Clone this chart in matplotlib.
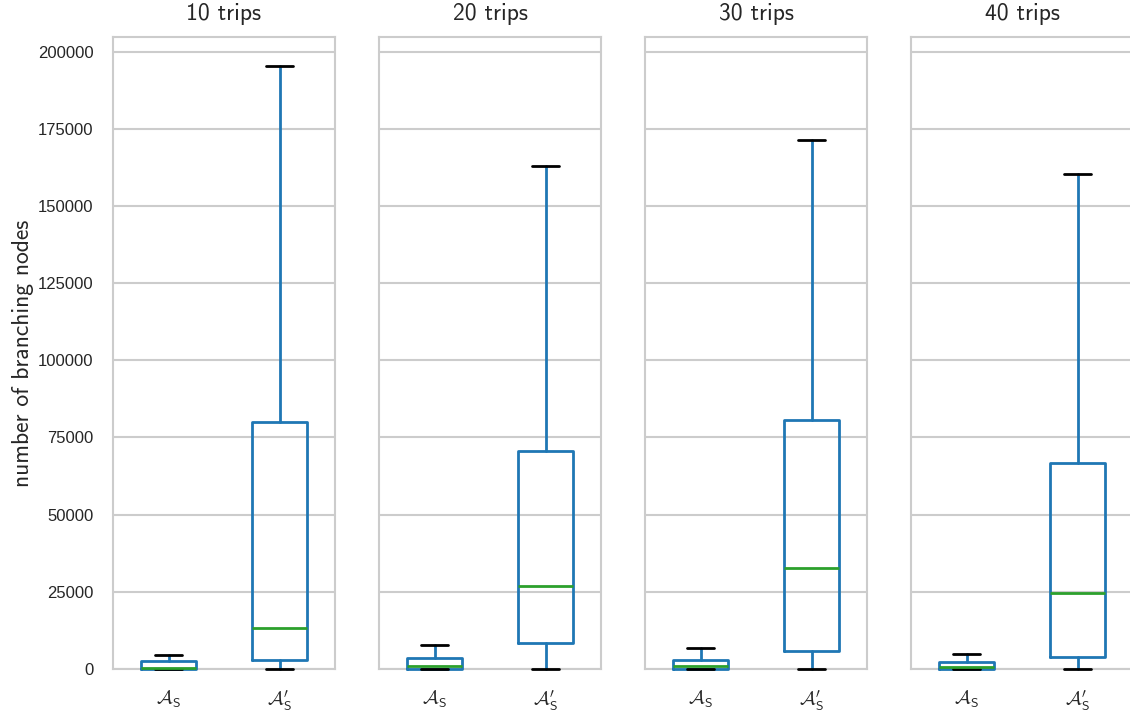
import matplotlib
matplotlib.use("Agg")
import matplotlib.pyplot as plt
import seaborn as sns

sns.set_theme(style="whitegrid")
plt.rcParams["font.family"] = ["Liberation Sans", "DejaVu Sans"]
plt.rcParams["mathtext.fontset"] = "cm"

# five-number summaries (lower whisker, q1, median, q3, upper whisker)
trip_counts = ["10 trips", "20 trips", "30 trips", "40 trips"]
method_labels = [r"$\mathcal{A}_\mathsf{S}$", r"$\mathcal{A}_\mathsf{S}^\prime$"]

as_low = [0, 0, 0, 0]
as_q1 = [0, 100, 100, 100]
as_med = [200, 900, 900, 700]
as_q3 = [2600, 3600, 2900, 2300]
as_high = [4500, 7800, 6800, 4900]

asp_low = [0, 0, 0, 0]
asp_q1 = [2900, 8400, 5800, 3900]
asp_med = [13300, 26900, 32700, 24600]
asp_q3 = [80000, 70500, 80600, 66700]
asp_high = [195200, 162800, 171300, 160300]

W, H = 1130, 713
fig = plt.figure(figsize=(W / 100, H / 100), dpi=100)

ax_lefts = [113, 379, 645, 911]
ax_w, ax_top, ax_bot = 222, 37, 669

box_color = "#1f77b4"
axes = []
for i, title in enumerate(trip_counts):
    ax = fig.add_axes([ax_lefts[i] / W, 1 - ax_bot / H, ax_w / W, (ax_bot - ax_top) / H],
                      sharey=axes[0] if axes else None)
    axes.append(ax)
    stats = [
        dict(whislo=as_low[i], q1=as_q1[i], med=as_med[i], q3=as_q3[i],
             whishi=as_high[i], fliers=[]),
        dict(whislo=asp_low[i], q1=asp_q1[i], med=asp_med[i], q3=asp_q3[i],
             whishi=asp_high[i], fliers=[]),
    ]
    parts = ax.bxp(stats, positions=[1, 2], widths=0.5, showfliers=False,
                   boxprops=dict(color=box_color, linewidth=2),
                   whiskerprops=dict(color=box_color, linewidth=2),
                   capprops=dict(color="black", linewidth=2),
                   medianprops=dict(color="#2ca02c", linewidth=2))
    for key in ("boxes", "whiskers", "caps", "medians"):
        for artist in parts[key]:
            artist.set_clip_on(False)
            artist.set_zorder(3)
    ax.set_xlim(0.5, 2.5)
    ax.set_xticks([1, 2])
    ax.set_xticklabels(method_labels, fontsize=14)
    ax.set_title(title, family="cmss10", fontsize=17, pad=12)
    ax.grid(axis="x", visible=False)
    ax.grid(axis="y", color="#cccccc", linewidth=1.5)
    for s in ax.spines.values():
        s.set_color("#cccccc")
        s.set_linewidth(1.5)
        s.set_zorder(2)
    ax.tick_params(axis="x", pad=8)
    if i > 0:
        ax.tick_params(axis="y", labelleft=False)
    else:
        ax.tick_params(axis="y", labelsize=12, pad=8)

axes[0].set_ylim(0, 204750)
axes[0].set_yticks(range(0, 200001, 25000))
axes[0].set_ylabel("number of branching nodes", family="cmss10", fontsize=17,
                   labelpad=3)

fig.savefig("out.png", dpi=100)
